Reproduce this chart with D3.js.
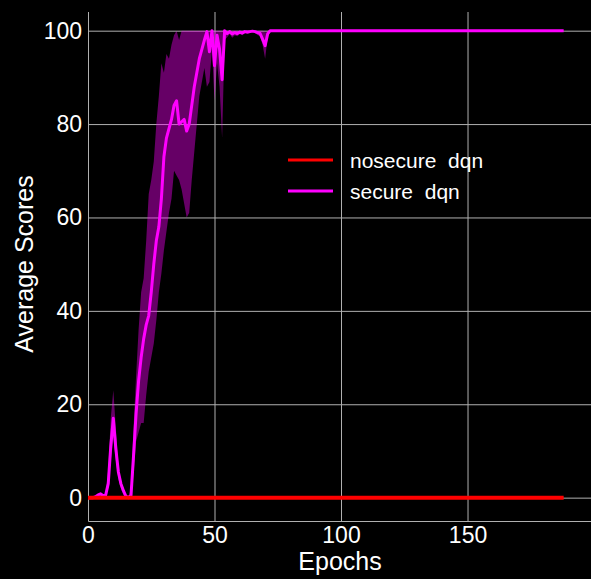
<!DOCTYPE html>
<html><head><meta charset="utf-8">
<script src="https://cdn.jsdelivr.net/npm/d3@7"></script>
<style>body{margin:0;background:#000}svg text{font-family:"Liberation Sans",Arial,sans-serif;fill:#fff}</style>
</head><body>
<svg id="c" width="591" height="579"></svg>
<script>
// ---- data ----
const seriesNames = ["nosecure  dqn", "secure  dqn"];
const xTicks = [0, 50, 100, 150];
const yTicks = [0, 20, 40, 60, 80, 100];

const nosecureMean = [
0,0,0,0,0,0,0,0,0,0, 0,0,0,0,0,0,0,0,0,0,
0,0,0,0,0,0,0,0,0,0, 0,0,0,0,0,0,0,0,0,0,
0,0,0,0,0,0,0,0,0,0, 0,0,0,0,0,0,0,0,0,0,
0,0,0,0,0,0,0,0,0,0, 0,0,0,0,0,0,0,0,0,0,
0,0,0,0,0,0,0,0,0,0, 0,0,0,0,0,0,0,0,0,0,
0,0,0,0,0,0,0,0,0,0, 0,0,0,0,0,0,0,0,0,0,
0,0,0,0,0,0,0,0,0,0, 0,0,0,0,0,0,0,0,0,0,
0,0,0,0,0,0,0,0,0,0, 0,0,0,0,0,0,0,0,0,0,
0,0,0,0,0,0,0,0,0,0, 0,0,0,0,0,0,0,0,0,0,
0,0,0,0,0,0,0,0,0];

const secureMean = [
0,0,0,0.2,0.6,0.8,0.4,0.6,3,11,
17,10.5,5.5,3,1.5,0.3,0,0.5,9,18,
25,30,34,37,39,44,50,55,58,64,
73,77,79,81,84,85,80,80.5,81,78.5,
80,84,88,91,94,96,98,99.8,95.5,100,
92.5,99,96,89.5,100,99.4,99.8,99.3,99.6,99.4,
99.7,99.5,99.8,99.7,99.8,99.9,99.8,99.6,99.4,98.2,
96.8,99.3,
100,100,100,100,100,100,100,100,100,100,100,100,100,100,100,100,100,100,100,100,
100,100,100,100,100,100,100,100,100,100,100,100,100,100,100,100,100,100,100,100,
100,100,100,100,100,100,100,100,100,100,100,100,100,100,100,100,100,100,100,100,
100,100,100,100,100,100,100,100,100,100,100,100,100,100,100,100,100,100,100,100,
100,100,100,100,100,100,100,100,100,100,100,100,100,100,100,100,100,100,100,100,
100,100,100,100,100,100,100,100,100,100,100,100,100,100,100,100,100];

const secureUpper = [
0,0,0,0.2,0.8,1.2,0.6,0.8,6,17,
23,15,7,3.5,2,0.5,0,2,15,26,
36,44,47,55,65,68,72,80,86,93,
91,95,94,97,99,100,98,100,100,100,
100,100,100,100,100,100,100,100,100,100,
100,100,100,100,100,100,100,100,100,100,
100,100,100,100,100,100,100,100,100,100,
99.6,100,
100,100,100,100,100,100,100,100,100,100,100,100,100,100,100,100,100,100,100,100,
100,100,100,100,100,100,100,100,100,100,100,100,100,100,100,100,100,100,100,100,
100,100,100,100,100,100,100,100,100,100,100,100,100,100,100,100,100,100,100,100,
100,100,100,100,100,100,100,100,100,100,100,100,100,100,100,100,100,100,100,100,
100,100,100,100,100,100,100,100,100,100,100,100,100,100,100,100,100,100,100,100,
100,100,100,100,100,100,100,100,100,100,100,100,100,100,100,100,100];

const secureLower = [
0,0,0,0.1,0.4,0.4,0.2,0.4,2,8,
13,8,4,2,0.5,0,0,0,5,12,
14,16,16,22,27,30,33,38,44,48,
53,57,61,64,70,69,68,66,63,60,
61,68,74,80,86,89,92,88,89,96,
85,93,88,77,98,98.6,99.3,98.5,99,98.8,
99.3,99,99.5,99.3,99.5,99.7,99.5,99.1,98.8,97,
94,98.6,
100,100,100,100,100,100,100,100,100,100,100,100,100,100,100,100,100,100,100,100,
100,100,100,100,100,100,100,100,100,100,100,100,100,100,100,100,100,100,100,100,
100,100,100,100,100,100,100,100,100,100,100,100,100,100,100,100,100,100,100,100,
100,100,100,100,100,100,100,100,100,100,100,100,100,100,100,100,100,100,100,100,
100,100,100,100,100,100,100,100,100,100,100,100,100,100,100,100,100,100,100,100,
100,100,100,100,100,100,100,100,100,100,100,100,100,100,100,100,100];

// ---- chart ----
const W = 591, H = 579;
const svg = d3.select("#c");
svg.append("rect").attr("width", W).attr("height", H).attr("fill", "#000");

const x = d3.scaleLinear().domain([0, 199]).range([88, 591.5]);
const y = d3.scaleLinear().domain([-5, 104]).range([521, 12]);
const gridColor = "#b0b0b0";

svg.append("defs").append("clipPath").attr("id", "clip")
  .append("rect").attr("x", 88).attr("y", 12).attr("width", W - 88).attr("height", 509);

// y axis with grid
const gy = svg.append("g").attr("transform", "translate(88,0)")
  .call(d3.axisLeft(y).tickValues(yTicks).tickSize(-(W - 88)).tickSizeOuter(0).tickPadding(6));
gy.selectAll(".tick line").attr("stroke", gridColor).attr("stroke-width", 1);
gy.select(".domain").attr("stroke", gridColor);
gy.selectAll(".tick text").attr("font-size", 23).attr("fill", "#fff")
  .style("font-family", "Liberation Sans, Arial, sans-serif");

// x axis with grid
const gx = svg.append("g").attr("transform", "translate(0,521)")
  .call(d3.axisBottom(x).tickValues(xTicks).tickSize(-(521 - 12)).tickSizeOuter(0).tickPadding(6));
gx.selectAll(".tick line").attr("stroke", gridColor).attr("stroke-width", 1);
gx.select(".domain").attr("stroke", gridColor);
gx.selectAll(".tick text").attr("font-size", 23).attr("fill", "#fff")
  .style("font-family", "Liberation Sans, Arial, sans-serif");

const plot = svg.append("g").attr("clip-path", "url(#clip)");

// band
const area = d3.area()
  .x((d, i) => x(i))
  .y0((d, i) => y(secureLower[i]))
  .y1((d, i) => y(secureUpper[i]));
plot.append("path").datum(secureMean).attr("d", area)
  .attr("fill", "#ff00ff").attr("fill-opacity", 0.4);

const line = d3.line().x((d, i) => x(i)).y(d => y(d));
plot.append("path").datum(secureMean).attr("d", line)
  .attr("fill", "none").attr("stroke", "#ff00ff").attr("stroke-width", 3)
  .attr("stroke-linejoin", "round");
plot.append("path").datum(nosecureMean).attr("d", line)
  .attr("fill", "none").attr("stroke", "#ff0000").attr("stroke-width", 4);

// axis titles
svg.append("text").attr("x", 340).attr("y", 570).attr("text-anchor", "middle")
  .attr("font-size", 25).text("Epochs");
svg.append("text").attr("transform", "translate(33,264) rotate(-90)")
  .attr("text-anchor", "middle").attr("font-size", 25).text("Average Scores");

// legend
const legColors = ["#ff0000", "#ff00ff"];
const lg = svg.append("g");
seriesNames.forEach((name, i) => {
  const ly = 160 + i * 31;
  lg.append("line").attr("x1", 288).attr("x2", 333).attr("y1", ly).attr("y2", ly)
    .attr("stroke", legColors[i]).attr("stroke-width", 3);
  lg.append("text").attr("x", 350).attr("y", ly + 8).attr("font-size", 21)
    .style("white-space", "pre").text(name);
});
</script>
</body></html>
